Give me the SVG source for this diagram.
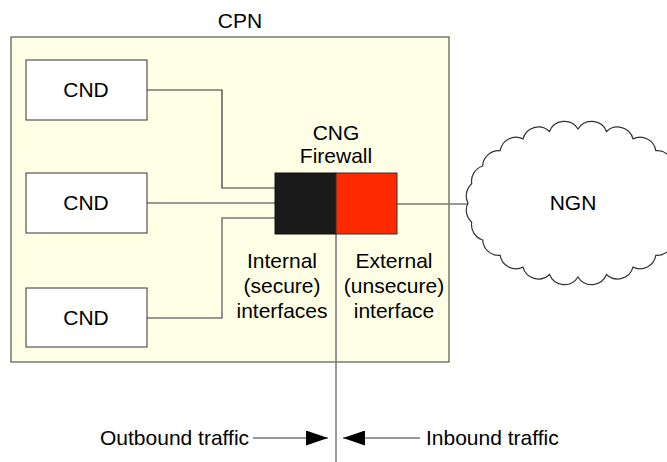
<svg xmlns="http://www.w3.org/2000/svg" width="667" height="462" viewBox="0 0 667 462">
<style>
text{font-family:"Liberation Sans",Arial,sans-serif;font-size:21px;fill:#000;}
.c{text-anchor:middle;}
.box{fill:#fff;stroke:#333;stroke-width:1;}
.ln{fill:none;stroke:#333;stroke-width:1.2;}
.gl{fill:none;stroke:#777;stroke-width:1.5;}
</style>
<defs>
<marker id="ah" viewBox="0 0 22 15" refX="22" refY="7.5" markerWidth="22" markerHeight="15" markerUnits="userSpaceOnUse" orient="auto">
<path d="M0,0 L22,7.5 L0,15 Z" fill="#000"/>
</marker>
</defs>
<rect width="667" height="462" fill="#fff"/>
<g id="cpn">
<rect x="11" y="37" width="438" height="325" fill="#ffffe6" stroke="#333" stroke-width="1"/>
<text class="c" x="240" y="28">CPN</text>
</g>
<g id="connectors">
<polyline class="ln" points="147,90 222,90 222,188 275,188"/>
<line class="gl" x1="147" y1="203" x2="275" y2="203"/>
<polyline class="gl" points="147,318 222,318 222,218 275,218"/>
<line class="gl" x1="397" y1="204" x2="468" y2="204"/>
<line class="gl" x1="336" y1="234" x2="336" y2="462"/>
<line class="ln" x1="253" y1="438" x2="328" y2="438" marker-end="url(#ah)"/>
<line class="ln" x1="420" y1="438" x2="343" y2="438" marker-end="url(#ah)"/>
</g>
<g id="cnd1">
<rect class="box" x="26" y="60" width="121" height="60"/>
<text class="c" x="86" y="97">CND</text>
</g>
<g id="cnd2">
<rect class="box" x="26" y="173" width="121" height="60"/>
<text class="c" x="86" y="210">CND</text>
</g>
<g id="cnd3">
<rect class="box" x="26" y="288" width="121" height="59"/>
<text class="c" x="86" y="325">CND</text>
</g>
<g id="cng">
<rect x="275" y="173" width="61" height="61" fill="#1a1a1a" stroke="#111" stroke-width="1"/>
<rect x="336" y="173" width="61" height="61" fill="#ff2a00" stroke="#333" stroke-width="1"/>
<text class="c" x="336" y="140">CNG</text>
<text class="c" x="336" y="163">Firewall</text>
</g>
<g id="internal">
<text class="c" x="282" y="268">Internal</text>
<text class="c" x="282" y="293">(secure)</text>
<text class="c" x="282" y="318">interfaces</text>
</g>
<g id="external">
<text class="c" x="394" y="268">External</text>
<text class="c" x="394" y="293">(unsecure)</text>
<text class="c" x="394" y="318">interface</text>
</g>
<g id="ngn">
<path fill="#fff" stroke="#333" stroke-width="1.2" d="M688,203 A16,16 0 0 1 684.3,222.2 A16,16 0 0 1 673.3,240 A16,16 0 0 1 655.8,255.3 A16,16 0 0 1 633,267.1 A16,16 0 0 1 606.5,274.5 A16,16 0 0 1 578,277 A16,16 0 0 1 549.5,274.5 A16,16 0 0 1 523,267.1 A16,16 0 0 1 500.2,255.3 A16,16 0 0 1 482.7,240 A16,16 0 0 1 471.7,222.2 A16,16 0 0 1 468,203 A16,16 0 0 1 471.7,183.8 A16,16 0 0 1 482.7,166 A16,16 0 0 1 500.2,150.7 A16,16 0 0 1 523,138.9 A16,16 0 0 1 549.5,131.5 A16,16 0 0 1 578,129 A16,16 0 0 1 606.5,131.5 A16,16 0 0 1 633,138.9 A16,16 0 0 1 655.8,150.7 A16,16 0 0 1 673.3,166 A16,16 0 0 1 684.3,183.8 A16,16 0 0 1 688,203 Z"/>
<text class="c" x="573" y="210">NGN</text>
</g>
<g id="traffic">
<text x="100" y="445">Outbound traffic</text>
<text x="426" y="445">Inbound traffic</text>
</g>
</svg>
